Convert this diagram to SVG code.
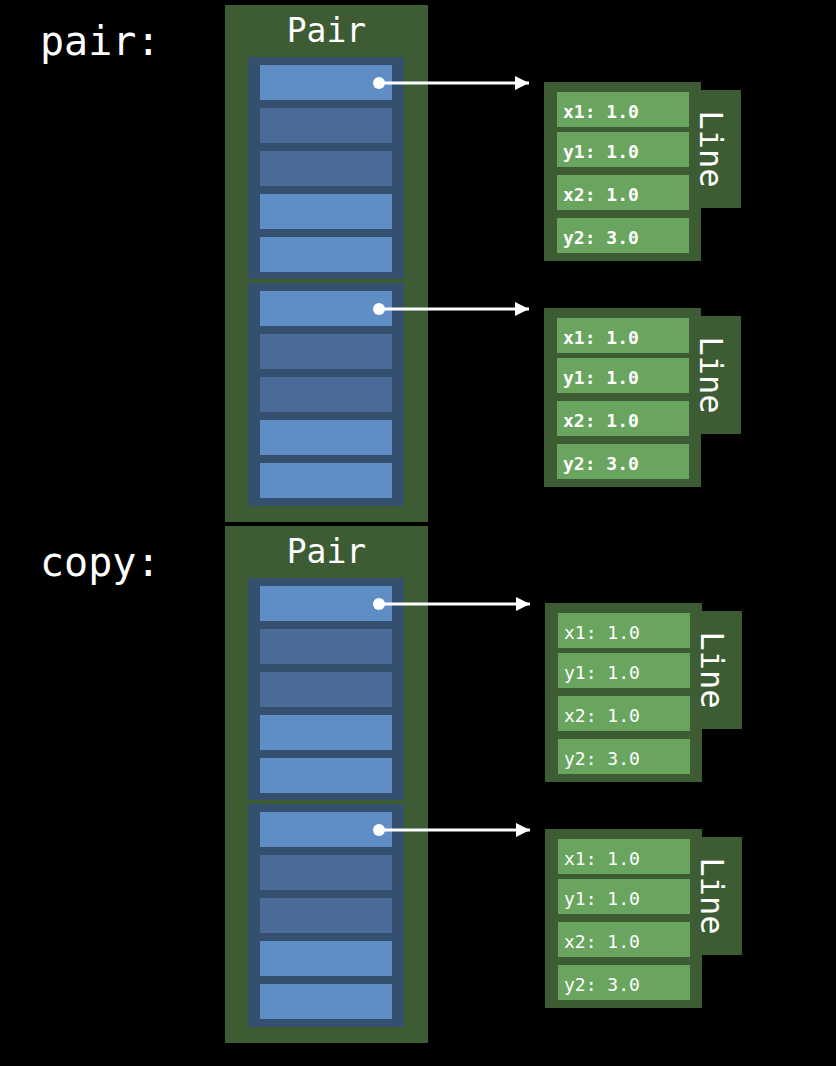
<svg xmlns="http://www.w3.org/2000/svg" width="836" height="1066" viewBox="0 0 836 1066">
<defs>
<style>
.outer{fill:#3d5c33}
.grp{fill:#35506f}
.lt{fill:#5f8ec7}
.dk{fill:#4a6b98}
.fld{fill:#6aa55f}
.t{font-family:"DejaVu Sans Mono","Liberation Mono",monospace;fill:#ffffff}
.big{font-size:40px}
.title{font-size:33px;text-anchor:middle}
.ftxt{font-size:18px;font-weight:bold}
.ftxt2{font-size:18px}
.ltitle{font-size:32px;text-anchor:middle}
.conn{stroke:#ffffff;stroke-width:3;fill:none}
</style>
<marker id="ah" markerWidth="14" markerHeight="14" refX="14" refY="7" orient="auto" markerUnits="userSpaceOnUse">
<path d="M0,0 L14,7 L0,14 Z" fill="#ffffff"/>
</marker>
<g id="pairBody">
<rect class="outer" x="225" y="5" width="203" height="517"/>
<text class="t title" x="326.5" y="42">Pair</text>
<rect class="grp" x="248" y="57" width="156" height="222"/>
<rect class="lt" x="260" y="65" width="132" height="35"/>
<rect class="dk" x="260" y="108" width="132" height="35"/>
<rect class="dk" x="260" y="151" width="132" height="35"/>
<rect class="lt" x="260" y="194" width="132" height="35"/>
<rect class="lt" x="260" y="237" width="132" height="35"/>
<rect class="grp" x="248" y="283" width="156" height="223"/>
<rect class="lt" x="260" y="291" width="132" height="35"/>
<rect class="dk" x="260" y="334" width="132" height="35"/>
<rect class="dk" x="260" y="377" width="132" height="35"/>
<rect class="lt" x="260" y="420" width="132" height="35"/>
<rect class="lt" x="260" y="463" width="132" height="35"/>
</g>
<g id="lineBox">
<rect class="outer" x="544" y="0" width="157" height="179"/>
<rect class="outer" x="700" y="8" width="41" height="118"/>
<rect class="fld" x="557" y="10" width="132" height="35"/>
<rect class="fld" x="557" y="50" width="132" height="35"/>
<rect class="fld" x="557" y="93" width="132" height="35"/>
<rect class="fld" x="557" y="136" width="132" height="35"/>
<text class="t ltitle" transform="translate(700,67) rotate(90)">Line</text>
</g>
</defs>
<rect x="0" y="0" width="836" height="1066" fill="#000000"/>

<text class="t big" x="40" y="55">pair:</text>
<text class="t big" x="40" y="576">copy:</text>

<g id="pair1"><use href="#pairBody"/></g>
<g id="pair2"><use href="#pairBody" transform="translate(0,521)"/></g>

<g id="line1" transform="translate(0,82)">
<use href="#lineBox"/>
<text class="t ftxt" x="563" y="35.5">x1: 1.0</text>
<text class="t ftxt" x="563" y="75.5">y1: 1.0</text>
<text class="t ftxt" x="563" y="118.5">x2: 1.0</text>
<text class="t ftxt" x="563" y="161.5">y2: 3.0</text>
</g>
<g id="line2" transform="translate(0,308)">
<use href="#lineBox"/>
<text class="t ftxt" x="563" y="35.5">x1: 1.0</text>
<text class="t ftxt" x="563" y="75.5">y1: 1.0</text>
<text class="t ftxt" x="563" y="118.5">x2: 1.0</text>
<text class="t ftxt" x="563" y="161.5">y2: 3.0</text>
</g>
<g id="line3" transform="translate(1,603)">
<use href="#lineBox"/>
<text class="t ftxt2" x="563" y="35.5">x1: 1.0</text>
<text class="t ftxt2" x="563" y="75.5">y1: 1.0</text>
<text class="t ftxt2" x="563" y="118.5">x2: 1.0</text>
<text class="t ftxt2" x="563" y="161.5">y2: 3.0</text>
</g>
<g id="line4" transform="translate(1,829)">
<use href="#lineBox"/>
<text class="t ftxt2" x="563" y="35.5">x1: 1.0</text>
<text class="t ftxt2" x="563" y="75.5">y1: 1.0</text>
<text class="t ftxt2" x="563" y="118.5">x2: 1.0</text>
<text class="t ftxt2" x="563" y="161.5">y2: 3.0</text>
</g>

<g id="connectors">
<circle cx="379" cy="83" r="6" fill="#ffffff"/>
<line class="conn" x1="379" y1="83" x2="529" y2="83" marker-end="url(#ah)"/>
<circle cx="379" cy="309" r="6" fill="#ffffff"/>
<line class="conn" x1="379" y1="309" x2="529" y2="309" marker-end="url(#ah)"/>
<circle cx="379" cy="604" r="6" fill="#ffffff"/>
<line class="conn" x1="379" y1="604" x2="530" y2="604" marker-end="url(#ah)"/>
<circle cx="379" cy="830" r="6" fill="#ffffff"/>
<line class="conn" x1="379" y1="830" x2="530" y2="830" marker-end="url(#ah)"/>
</g>
</svg>
